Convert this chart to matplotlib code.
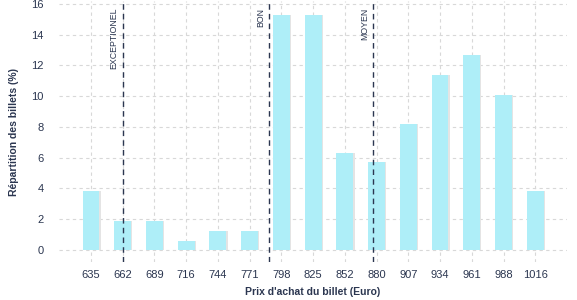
import matplotlib
matplotlib.use("Agg")
import matplotlib.pyplot as plt
import numpy as np

prices = ["635", "662", "689", "716", "744", "771", "798", "825", "852", "880",
          "907", "934", "961", "988", "1016"]
shares = [3.8, 1.9, 1.9, 0.6, 1.25, 1.25, 15.3, 15.3, 6.3, 5.7, 8.2, 11.4, 12.7, 10.1, 3.8]
# reference lines: (label, position in category units)
ref_labels = ["EXCEPTIONEL", "BON", "MOYEN"]
ref_pos = [1.0, 5.61, 8.9]

navy = "#2b3650"
plt.rcParams['font.family'] = ['Liberation Sans', 'DejaVu Sans']

fig = plt.figure(figsize=(5.77, 3.0), dpi=100)
ax = fig.add_axes([59.2/577, 1-262/300, (567-59.2)/577, (262-1)/300])

x = np.arange(len(prices))
w = 0.53
ax.bar(x + 0.04, shares, width=w, color="#e4e4e4", zorder=2)
ax.bar(x, shares, width=w, color="#aeeef8", zorder=3)

for lab, p in zip(ref_labels, ref_pos):
    ax.axvline(p, color=navy, linestyle=(0, (4, 3)), linewidth=1.0, zorder=4)
    ax.text(p - 0.13, 15.75, lab, rotation=90, ha='right', va='top',
            fontsize=6.3, color=navy, zorder=5)

ax.set_xlim(-1, 15)
ax.set_ylim(-0.8, 16.2)
ax.set_xticks(x)
ax.set_xticklabels(prices)
ax.set_yticks(np.arange(0, 17, 2))
ax.grid(True, color="#d8d8d8", linestyle=(0, (3, 3)), linewidth=0.8, zorder=0)
ax.set_axisbelow(True)
for s in ax.spines.values():
    s.set_visible(False)
ax.tick_params(axis='both', length=0, labelsize=8, colors=navy)
ax.tick_params(axis='y', pad=11)
ax.tick_params(axis='x', pad=6)
ax.set_xlabel("Prix d'achat du billet (Euro)", fontsize=7.5, fontweight='bold', color=navy, labelpad=5)
ax.set_ylabel("Répartition des billets (%)", fontsize=7.5, fontweight='bold', color=navy, labelpad=9)

fig.savefig("out.png", dpi=100)
